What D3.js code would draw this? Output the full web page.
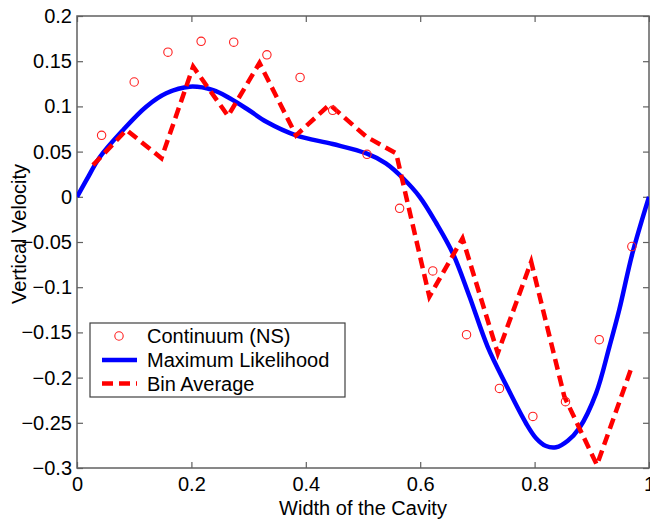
<!DOCTYPE html>
<html>
<head>
<meta charset="utf-8">
<script src="https://cdn.jsdelivr.net/npm/d3@7"></script>
<style>
  body { margin: 0; background: #fff; }
  svg text { font-family: "Liberation Sans", Arial, Helvetica, sans-serif; fill: #000; }
</style>
</head>
<body>
<script>
// Continuum (NS) points
var nsX = [0.043, 0.100, 0.159, 0.217, 0.274, 0.332, 0.390, 0.447, 0.507, 0.564, 0.622, 0.681, 0.7385, 0.797, 0.854, 0.913, 0.970];
var nsY = [0.068, 0.127, 0.160, 0.172, 0.171, 0.157, 0.132, 0.0957, 0.047, -0.0127, -0.082, -0.1525, -0.212, -0.243, -0.2266, -0.158, -0.055];

// Maximum Likelihood curve
var mlX = [0, 0.0166, 0.04, 0.0806, 0.121, 0.156, 0.197, 0.238, 0.267, 0.3, 0.331, 0.383, 0.447, 0.506, 0.54, 0.57, 0.599, 0.628, 0.657, 0.686, 0.718, 0.75, 0.785, 0.8026, 0.82, 0.8376, 0.858, 0.878, 0.9075, 0.9307, 0.948, 0.971, 1];
var mlY = [0, 0.0186, 0.044, 0.074, 0.0997, 0.1145, 0.1218, 0.118, 0.109, 0.096, 0.083, 0.068, 0.0584, 0.048, 0.037, 0.0205, 0, -0.029, -0.0625, -0.11, -0.166, -0.208, -0.2505, -0.267, -0.2757, -0.277, -0.2698, -0.256, -0.2174, -0.166, -0.125, -0.0625, 0];

// Bin Average
var binX = [0.028, 0.0865, 0.1476, 0.203, 0.264, 0.319, 0.383, 0.4416, 0.5057, 0.558, 0.616, 0.674, 0.7356, 0.794, 0.852, 0.909, 0.970];
var binY = [0.035, 0.074, 0.0426, 0.144, 0.0894, 0.148, 0.068, 0.102, 0.0665, 0.048, -0.1105, -0.046, -0.173, -0.0718, -0.221, -0.2967, -0.188];

var xTicks = [0, 0.2, 0.4, 0.6, 0.8, 1];
var yTicks = [0.2, 0.15, 0.1, 0.05, 0, -0.05, -0.1, -0.15, -0.2, -0.25, -0.3];
var legendLabels = ["Continuum (NS)", "Maximum Likelihood", "Bin Average"];

var W = 650, H = 519;
var mLeft = 77, mRight = 649, mTop = 16, mBottom = 468;

var svg = d3.select("body").append("svg").attr("width", W).attr("height", H);

var x = d3.scaleLinear().domain([0, 1]).range([mLeft, mRight]);
var y = d3.scaleLinear().domain([-0.3, 0.2]).range([mBottom, mTop]);

var fmt = function (d) { return d === 0 ? "0" : String(d).replace("-", "\u2212"); };

svg.append("defs").append("clipPath").attr("id", "clip")
  .append("rect").attr("x", mLeft).attr("y", mTop).attr("width", mRight - mLeft).attr("height", mBottom - mTop);

var axisColor = "#606060";

// box and ticks
function styleAxis(g) {
  g.selectAll("line").attr("stroke", axisColor).attr("stroke-width", 1.2);
  g.selectAll("text").style("font-size", "20px").attr("fill", "#000");
}

svg.append("g").attr("transform", "translate(0," + mBottom + ")")
  .call(d3.axisBottom(x).tickValues(xTicks).tickSize(-6).tickSizeOuter(0).tickPadding(9).tickFormat(fmt))
  .call(styleAxis);
svg.append("g").attr("transform", "translate(0," + mTop + ")")
  .call(d3.axisTop(x).tickValues(xTicks).tickSize(-6).tickSizeOuter(0).tickFormat(""))
  .call(styleAxis);
svg.append("g").attr("transform", "translate(" + mLeft + ",0)")
  .call(d3.axisLeft(y).tickValues(yTicks).tickSize(-6).tickSizeOuter(0).tickPadding(5).tickFormat(fmt))
  .call(styleAxis);
svg.append("g").attr("transform", "translate(" + mRight + ",0)")
  .call(d3.axisRight(y).tickValues(yTicks).tickSize(-6).tickSizeOuter(0).tickFormat(""))
  .call(styleAxis);

svg.selectAll(".domain").remove();
svg.append("rect").attr("x", mLeft).attr("y", mTop).attr("width", mRight - mLeft).attr("height", mBottom - mTop)
  .attr("fill", "none").attr("stroke", axisColor).attr("stroke-width", 1.5);

var plot = svg.append("g").attr("clip-path", "url(#clip)");

var line = d3.line().x(function (d) { return x(d[0]); }).y(function (d) { return y(d[1]); });

var mlData = d3.zip(mlX, mlY);
var binData = d3.zip(binX, binY);
var nsData = d3.zip(nsX, nsY);

plot.append("path").datum(mlData)
  .attr("d", line.curve(d3.curveCatmullRom))
  .attr("fill", "none").attr("stroke", "#0000ff").attr("stroke-width", 4.5)
  .attr("stroke-linejoin", "round");

plot.append("path").datum(binData)
  .attr("d", line.curve(d3.curveLinear))
  .attr("fill", "none").attr("stroke", "#ff0000").attr("stroke-width", 4.5)
  .attr("stroke-dasharray", "11,6");

plot.selectAll("circle").data(nsData).enter().append("circle")
  .attr("cx", function (d) { return x(d[0]); })
  .attr("cy", function (d) { return y(d[1]); })
  .attr("r", 4.2)
  .attr("fill", "none").attr("stroke", "#ff2020").attr("stroke-width", 1.1);

// axis labels
svg.append("text").attr("x", (mLeft + mRight) / 2).attr("y", 515)
  .attr("text-anchor", "middle").style("font-size", "20px").text("Width of the Cavity");
svg.append("text").attr("transform", "translate(26,234) rotate(-90)")
  .attr("text-anchor", "middle").style("font-size", "20px").text("Vertical Velocity");

// legend
var lg = svg.append("g");
lg.append("rect").attr("x", 90).attr("y", 323).attr("width", 255).attr("height", 74)
  .attr("fill", "#fff").attr("stroke", "#404040").attr("stroke-width", 1.2);
var rowY = [336, 360, 383.5];
lg.selectAll("text").data(legendLabels).enter().append("text")
  .attr("x", 147).attr("y", function (d, i) { return rowY[i] + 7; })
  .style("font-size", "20px").text(function (d) { return d; });
lg.append("circle").attr("cx", 119).attr("cy", rowY[0]).attr("r", 4.2)
  .attr("fill", "none").attr("stroke", "#ff2020").attr("stroke-width", 1.1);
lg.append("line").attr("x1", 102).attr("x2", 137).attr("y1", rowY[1]).attr("y2", rowY[1])
  .attr("stroke", "#0000ff").attr("stroke-width", 4.5);
lg.append("line").attr("x1", 102).attr("x2", 137).attr("y1", rowY[2]).attr("y2", rowY[2])
  .attr("stroke", "#ff0000").attr("stroke-width", 4.5).attr("stroke-dasharray", "11,6");
</script>
</body>
</html>
